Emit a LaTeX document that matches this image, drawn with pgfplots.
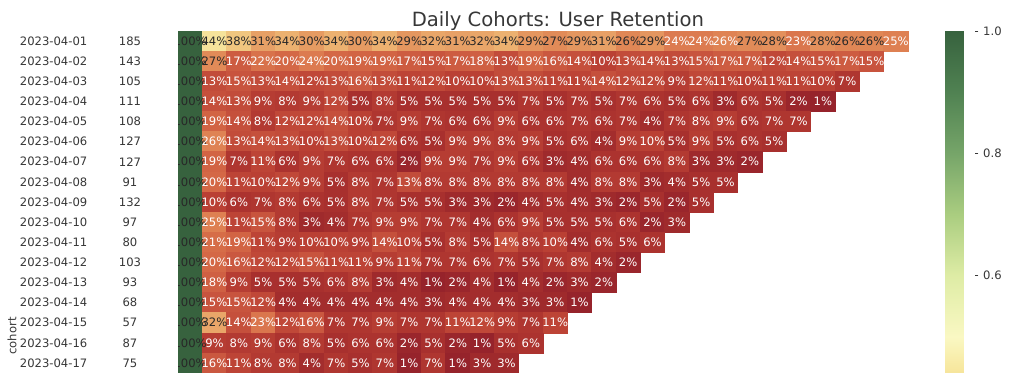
\documentclass[border=0pt]{standalone}
\usepackage{pgfplots}
\pgfplotsset{compat=1.18}
\usepackage{fontspec}
\setmainfont{DejaVu Sans}
\definecolor{txtdark}{RGB}{40,40,40}
\definecolor{lblgray}{RGB}{55,55,55}
\pgfplotsset{
  colormap={retention}{
    rgb255=(145,32,42) rgb255=(168,48,46) rgb255=(186,64,52) rgb255=(200,84,62)
    rgb255=(212,104,70) rgb255=(222,128,82) rgb255=(230,155,98) rgb255=(237,182,116)
    rgb255=(242,208,135) rgb255=(247,232,160) rgb255=(250,248,195) rgb255=(236,242,180)
    rgb255=(222,236,165) rgb255=(196,220,146) rgb255=(170,205,128) rgb255=(144,185,116)
    rgb255=(118,165,105) rgb255=(99,147,93) rgb255=(80,130,82) rgb255=(67,114,72)
    rgb255=(55,98,62)
  },
  colormap={retentionbar}{
    rgb255(0pt)=(246,228,156);
    rgb255(9pt)=(247,232,160);
    rgb255(59pt)=(250,248,195);
    rgb255(159pt)=(222,236,165);
    rgb255(259pt)=(170,205,128);
    rgb255(359pt)=(118,165,105);
    rgb255(459pt)=(80,130,82);
    rgb255(559pt)=(55,98,62)
  },
}
\pgfplotsset{
  cellrow/.style={
    scatter, only marks, mark=square*, mark size=7.55pt,
    mark options={xscale=1.2086, line width=0.35pt},
    scatter src=explicit,
    scatter/use mapped color={draw=mapped color, fill=mapped color},
  },
  textrow/.style={
    only marks, mark=none,
    point meta=explicit,
    visualization depends on={value \thisrow{v} \as \val},
    nodes near coords={\ifdim\val pt<26pt\color{white}\else\color{txtdark}\fi\pgfmathprintnumber[fixed,precision=0,assume math mode=true]{\val}\%},
    every node near coord/.append style={anchor=center, inner sep=0pt, font=\fontsize{8.7}{10}\selectfont},
  },
}
\begin{document}
\begin{tikzpicture}
\useasboundingbox (-133.5pt,23.25pt) rectangle (634.5pt,-256.5pt);
% retention heatmap
\begin{axis}[
  at={(0pt,0pt)}, anchor=north west,
  scale only axis, width=547.5pt, height=256.5pt,
  xmin=-0.5, xmax=29.5, ymin=-0.5, ymax=16.5, y dir=reverse,
  hide axis,
  colormap name=retention, point meta min=0, point meta max=100,
  title={Daily Cohorts: User Retention},
  title style={at={(axis description cs:0.5205,1)}, anchor=base, yshift=-2.6pt, font=\fontsize{14.7}{17}\selectfont, text=lblgray},
]
% cells
\addplot[cellrow] table[row sep=\\, x expr=\coordindex, y expr=0, meta=v]
 {v\\100\\44\\38\\31\\34\\30\\34\\30\\34\\29\\32\\31\\32\\34\\29\\27\\29\\31\\26.3\\29\\24\\24\\25.6\\27\\28\\23\\28\\26.3\\26.3\\25\\};
\addplot[cellrow] table[row sep=\\, x expr=\coordindex, y expr=1, meta=v]
 {v\\100\\27\\17\\22\\20\\24\\20\\19\\19\\17\\15\\17\\18\\13\\19\\16\\14\\10\\13\\14\\13\\15\\17\\17\\12\\14\\15\\17\\15\\};
\addplot[cellrow] table[row sep=\\, x expr=\coordindex, y expr=2, meta=v]
 {v\\100\\13\\15\\13\\14\\12\\13\\16\\13\\11\\12\\10\\10\\13\\13\\11\\11\\14\\12\\12\\9\\12\\11\\10\\11\\11\\10\\7\\};
\addplot[cellrow] table[row sep=\\, x expr=\coordindex, y expr=3, meta=v]
 {v\\100\\14\\13\\9\\8\\9\\12\\5\\8\\5\\5\\5\\5\\5\\7\\5\\7\\5\\7\\6\\5\\6\\3\\6\\5\\2\\1\\};
\addplot[cellrow] table[row sep=\\, x expr=\coordindex, y expr=4, meta=v]
 {v\\100\\19\\14\\8\\12\\12\\14\\10\\7\\9\\7\\6\\6\\9\\6\\6\\7\\6\\7\\4\\7\\8\\9\\6\\7\\7\\};
\addplot[cellrow] table[row sep=\\, x expr=\coordindex, y expr=5, meta=v]
 {v\\100\\25.6\\13\\14\\13\\10\\13\\10\\12\\6\\5\\9\\9\\8\\9\\5\\6\\4\\9\\10\\5\\9\\5\\6\\5\\};
\addplot[cellrow] table[row sep=\\, x expr=\coordindex, y expr=6, meta=v]
 {v\\100\\19\\7\\11\\6\\9\\7\\6\\6\\2\\9\\9\\7\\9\\6\\3\\4\\6\\6\\6\\8\\3\\3\\2\\};
\addplot[cellrow] table[row sep=\\, x expr=\coordindex, y expr=7, meta=v]
 {v\\100\\20\\11\\10\\12\\9\\5\\8\\7\\13\\8\\8\\8\\8\\8\\8\\4\\8\\8\\3\\4\\5\\5\\};
\addplot[cellrow] table[row sep=\\, x expr=\coordindex, y expr=8, meta=v]
 {v\\100\\10\\6\\7\\8\\6\\5\\8\\7\\5\\5\\3\\3\\2\\4\\5\\4\\3\\2\\5\\2\\5\\};
\addplot[cellrow] table[row sep=\\, x expr=\coordindex, y expr=9, meta=v]
 {v\\100\\25\\11\\15\\8\\3\\4\\7\\9\\9\\7\\7\\4\\6\\9\\5\\5\\5\\6\\2\\3\\};
\addplot[cellrow] table[row sep=\\, x expr=\coordindex, y expr=10, meta=v]
 {v\\100\\21\\19\\11\\9\\10\\10\\9\\14\\10\\5\\8\\5\\14\\8\\10\\4\\6\\5\\6\\};
\addplot[cellrow] table[row sep=\\, x expr=\coordindex, y expr=11, meta=v]
 {v\\100\\20\\16\\12\\12\\15\\11\\11\\9\\11\\7\\7\\6\\7\\5\\7\\8\\4\\2\\};
\addplot[cellrow] table[row sep=\\, x expr=\coordindex, y expr=12, meta=v]
 {v\\100\\18\\9\\5\\5\\5\\6\\8\\3\\4\\1\\2\\4\\1\\4\\2\\3\\2\\};
\addplot[cellrow] table[row sep=\\, x expr=\coordindex, y expr=13, meta=v]
 {v\\100\\15\\15\\12\\4\\4\\4\\4\\4\\4\\3\\4\\4\\4\\3\\3\\1\\};
\addplot[cellrow] table[row sep=\\, x expr=\coordindex, y expr=14, meta=v]
 {v\\100\\32\\14\\23\\12\\16\\7\\7\\9\\7\\7\\11\\12\\9\\7\\11\\};
\addplot[cellrow] table[row sep=\\, x expr=\coordindex, y expr=15, meta=v]
 {v\\100\\9\\8\\9\\6\\8\\5\\6\\6\\2\\5\\2\\1\\5\\6\\};
\addplot[cellrow] table[row sep=\\, x expr=\coordindex, y expr=16, meta=v]
 {v\\100\\16\\11\\8\\8\\4\\7\\5\\7\\1\\7\\1\\3\\3\\};
% annotations
\addplot[textrow] table[row sep=\\, x expr=\coordindex, y expr=0, meta=v]
 {v\\100\\44\\38\\31\\34\\30\\34\\30\\34\\29\\32\\31\\32\\34\\29\\27\\29\\31\\26.3\\29\\24\\24\\25.6\\27\\28\\23\\28\\26.3\\26.3\\25\\};
\addplot[textrow] table[row sep=\\, x expr=\coordindex, y expr=1, meta=v]
 {v\\100\\27\\17\\22\\20\\24\\20\\19\\19\\17\\15\\17\\18\\13\\19\\16\\14\\10\\13\\14\\13\\15\\17\\17\\12\\14\\15\\17\\15\\};
\addplot[textrow] table[row sep=\\, x expr=\coordindex, y expr=2, meta=v]
 {v\\100\\13\\15\\13\\14\\12\\13\\16\\13\\11\\12\\10\\10\\13\\13\\11\\11\\14\\12\\12\\9\\12\\11\\10\\11\\11\\10\\7\\};
\addplot[textrow] table[row sep=\\, x expr=\coordindex, y expr=3, meta=v]
 {v\\100\\14\\13\\9\\8\\9\\12\\5\\8\\5\\5\\5\\5\\5\\7\\5\\7\\5\\7\\6\\5\\6\\3\\6\\5\\2\\1\\};
\addplot[textrow] table[row sep=\\, x expr=\coordindex, y expr=4, meta=v]
 {v\\100\\19\\14\\8\\12\\12\\14\\10\\7\\9\\7\\6\\6\\9\\6\\6\\7\\6\\7\\4\\7\\8\\9\\6\\7\\7\\};
\addplot[textrow] table[row sep=\\, x expr=\coordindex, y expr=5, meta=v]
 {v\\100\\25.6\\13\\14\\13\\10\\13\\10\\12\\6\\5\\9\\9\\8\\9\\5\\6\\4\\9\\10\\5\\9\\5\\6\\5\\};
\addplot[textrow] table[row sep=\\, x expr=\coordindex, y expr=6, meta=v]
 {v\\100\\19\\7\\11\\6\\9\\7\\6\\6\\2\\9\\9\\7\\9\\6\\3\\4\\6\\6\\6\\8\\3\\3\\2\\};
\addplot[textrow] table[row sep=\\, x expr=\coordindex, y expr=7, meta=v]
 {v\\100\\20\\11\\10\\12\\9\\5\\8\\7\\13\\8\\8\\8\\8\\8\\8\\4\\8\\8\\3\\4\\5\\5\\};
\addplot[textrow] table[row sep=\\, x expr=\coordindex, y expr=8, meta=v]
 {v\\100\\10\\6\\7\\8\\6\\5\\8\\7\\5\\5\\3\\3\\2\\4\\5\\4\\3\\2\\5\\2\\5\\};
\addplot[textrow] table[row sep=\\, x expr=\coordindex, y expr=9, meta=v]
 {v\\100\\25\\11\\15\\8\\3\\4\\7\\9\\9\\7\\7\\4\\6\\9\\5\\5\\5\\6\\2\\3\\};
\addplot[textrow] table[row sep=\\, x expr=\coordindex, y expr=10, meta=v]
 {v\\100\\21\\19\\11\\9\\10\\10\\9\\14\\10\\5\\8\\5\\14\\8\\10\\4\\6\\5\\6\\};
\addplot[textrow] table[row sep=\\, x expr=\coordindex, y expr=11, meta=v]
 {v\\100\\20\\16\\12\\12\\15\\11\\11\\9\\11\\7\\7\\6\\7\\5\\7\\8\\4\\2\\};
\addplot[textrow] table[row sep=\\, x expr=\coordindex, y expr=12, meta=v]
 {v\\100\\18\\9\\5\\5\\5\\6\\8\\3\\4\\1\\2\\4\\1\\4\\2\\3\\2\\};
\addplot[textrow] table[row sep=\\, x expr=\coordindex, y expr=13, meta=v]
 {v\\100\\15\\15\\12\\4\\4\\4\\4\\4\\4\\3\\4\\4\\4\\3\\3\\1\\};
\addplot[textrow] table[row sep=\\, x expr=\coordindex, y expr=14, meta=v]
 {v\\100\\32\\14\\23\\12\\16\\7\\7\\9\\7\\7\\11\\12\\9\\7\\11\\};
\addplot[textrow] table[row sep=\\, x expr=\coordindex, y expr=15, meta=v]
 {v\\100\\9\\8\\9\\6\\8\\5\\6\\6\\2\\5\\2\\1\\5\\6\\};
\addplot[textrow] table[row sep=\\, x expr=\coordindex, y expr=16, meta=v]
 {v\\100\\16\\11\\8\\8\\4\\7\\5\\7\\1\\7\\1\\3\\3\\};
\end{axis}
% cohort size column (drawn after, white background hides overflow of first column text)
\begin{axis}[
  at={(0pt,0pt)}, anchor=north east,
  scale only axis, width=64.5pt, height=256.5pt,
  xmin=0, xmax=1, ymin=-0.5, ymax=16.5, y dir=reverse,
  axis background/.style={fill=white},
  axis line style={draw=none}, hide x axis,
  ytick={0,...,16},
  yticklabels={2023-04-01,2023-04-02,2023-04-03,2023-04-04,2023-04-05,2023-04-06,2023-04-07,2023-04-08,2023-04-09,2023-04-10,2023-04-11,2023-04-12,2023-04-13,2023-04-14,2023-04-15,2023-04-16,2023-04-17},
  major tick length=0pt, ytick style={draw=none},
  yticklabel style={font=\fontsize{8.7}{10}\selectfont, text=lblgray},
  ylabel={cohort},
  ylabel style={at={(axis description cs:-0.93,0.108)}, anchor=center, rotate=0, font=\fontsize{8.7}{10}\selectfont, text=lblgray},
]
\addplot[only marks, mark=none, nodes near coords, point meta=explicit symbolic,
  every node near coord/.append style={anchor=center, text=lblgray, font=\fontsize{8.7}{10}\selectfont}]
  table[row sep=\\, x expr=0.4419, y expr=\coordindex, meta=n]
  {n\\185\\143\\105\\111\\108\\127\\127\\91\\132\\97\\80\\103\\93\\68\\57\\87\\75\\};
\end{axis}
% colorbar carrier
\begin{axis}[
  at={(0pt,0pt)}, anchor=north west,
  scale only axis, width=547.5pt, height=256.5pt,
  hide axis, xmin=0, xmax=1, ymin=0, ymax=1,
  colormap name=retentionbar, point meta min=0.441, point meta max=1,
  colorbar,
  colorbar shift/.style={},
  colorbar style={
    at={(parent axis.north east)}, anchor=north west, xshift=27.75pt,
    scale only axis, width=22.5pt, height=256.5pt,
    axis line style={draw=none},
    ytick={0.6,0.8,1.0}, ytick pos=right, tick align=outside,
    major tick length=2.6pt,
    tick style={draw=lblgray, line width=0.6pt},
    yticklabel style={font=\fontsize{8.7}{10}\selectfont, text=lblgray,
      /pgf/number format/fixed, /pgf/number format/fixed zerofill,
      /pgf/number format/precision=1, /pgf/number format/assume math mode=true},
  },
]
\addplot[draw=none, mark=none, point meta=explicit] coordinates {(0,0)[0.441] (1,1)[1]};
\end{axis}
\end{tikzpicture}
\end{document}
